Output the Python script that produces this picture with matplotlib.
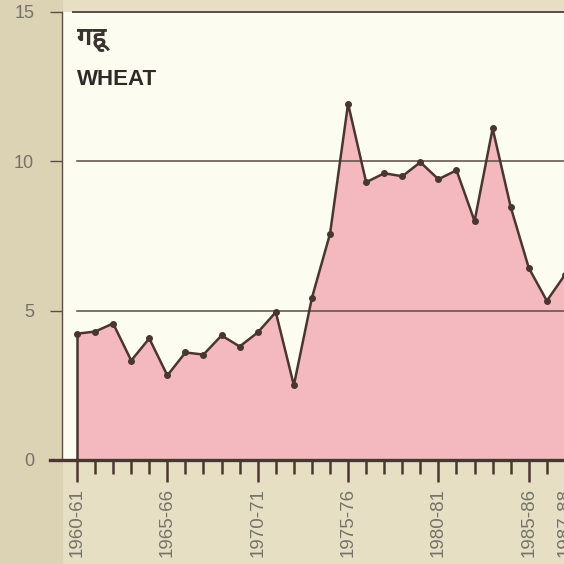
import numpy as np
import matplotlib
matplotlib.use('Agg')
import matplotlib.pyplot as plt
from matplotlib import font_manager
from matplotlib.ft2font import FT2Font

# wheat, 1960-61 .. 1987-88
years = list(range(1960, 1988))
values = [4.23, 4.3, 4.57, 3.33, 4.07, 2.83, 3.6, 3.53, 4.17, 3.8,
          4.27, 4.95, 2.5, 5.43, 7.57, 11.93, 9.3, 9.6, 9.5, 9.97,
          9.4, 9.7, 8.0, 11.1, 8.47, 6.43, 5.33, 6.2]
label_years = [1960, 1965, 1970, 1975, 1980, 1985, 1987]
label_text = ['1960-61', '1965-66', '1970-71', '1975-76', '1980-81', '1985-86', '1987-88']
y_ticks = [0, 5, 10, 15]
title_hi = 'गहू'
title_en = 'WHEAT'


def find_font(ch):
    # installed families that have this glyph, Noto first
    names = []
    for f in font_manager.fontManager.ttflist:
        try:
            if FT2Font(f.fname).get_char_index(ord(ch)):
                names.append(f.name)
        except Exception:
            pass
    for key in ['Noto Sans Devanagari', 'Noto', 'Lohit', 'Free']:
        for n in names:
            if key in n:
                return n
    return names[0] if names else 'DejaVu Sans'


plt.rcParams['font.family'] = ['Liberation Sans', 'DejaVu Sans']

ink = '#4a3631'
grey = '#76726b'

fig = plt.figure(figsize=(5.64, 5.64), dpi=100, facecolor='#e6dfc3')
# darker strip on the left, like the scanned page
fig.patches.append(plt.Rectangle((0, 0), 62 / 564, 1, transform=fig.transFigure,
                                 color='#dbd3b3', zorder=-1))
ax = fig.add_axes([62 / 564, 104 / 564, 521 / 564, 448 / 564])
ax.set_facecolor('#fdfcf1')
ax.set_xlim(1959.17, 1988)
ax.set_ylim(0, 15)

# grid lines at 5, 10, 15
for g in [5, 10]:
    ax.plot([1960, 1988], [g, g], color='#5a4c47', lw=1.1, zorder=3)
ax.plot([1959.8, 1988], [15, 15], color='#5a4c47', lw=1.4, zorder=3, clip_on=False)

ax.fill_between(years, values, 0, color='#f4b9be', zorder=2, lw=0)
ax.plot([years[0], years[0]], [0, values[0]], color=ink, lw=1.8, zorder=4)
ax.plot(years, values, color=ink, lw=1.8, marker='o', ms=4, zorder=4)

# axes lines
for s in ['top', 'right']:
    ax.spines[s].set_visible(False)
ax.spines['left'].set_color('#5a4c47')
ax.spines['left'].set_linewidth(1.0)
ax.spines['bottom'].set_visible(False)
ax.plot([1958.5, 1988], [0, 0], color=ink, lw=2.4, zorder=5, clip_on=False)

ax.set_yticks(y_ticks)
ax.set_yticklabels([str(t) for t in y_ticks])
ax.tick_params(axis='y', direction='out', length=9, width=1.0, color='#5a4c47',
               pad=11, labelsize=13, labelcolor=grey)

ax.set_xticks(label_years)
ax.set_xticklabels(label_text, rotation=90, va='top', ha='center')
ax.set_xticks(years, minor=True)
ax.tick_params(axis='x', which='major', direction='out', length=16, width=1.8,
               color=ink, pad=4, labelsize=13.5, labelcolor=grey)
ax.tick_params(axis='x', which='minor', direction='out', length=10, width=1.8, color=ink)

ax.text(1960.0, 14.45, title_hi, fontsize=18, fontweight='bold', color='#3a3330',
        family=[find_font(title_hi[0]), 'DejaVu Sans'], va='top', ha='left')
ax.text(1960.0, 13.1, title_en, fontsize=16, fontweight='bold', color='#2e2a28',
        va='top', ha='left')

fig.savefig('out.png', dpi=100, facecolor=fig.get_facecolor())
